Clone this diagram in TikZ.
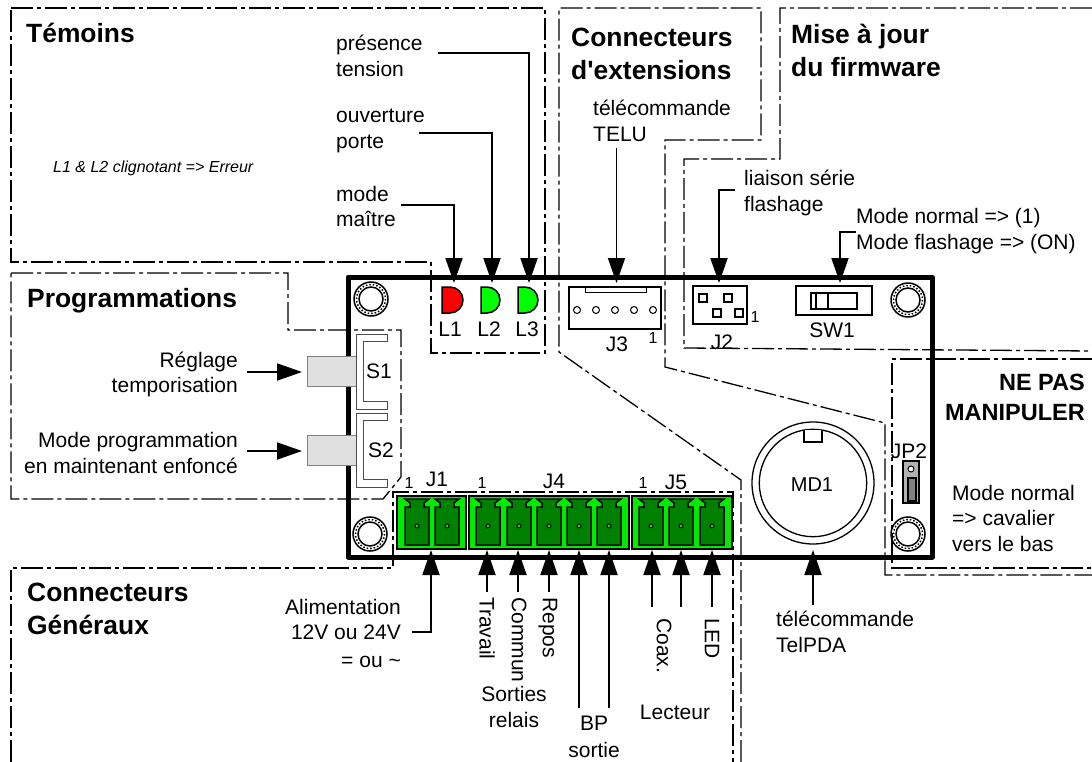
\documentclass[tikz,border=0pt]{standalone}
\usepackage{fontspec}
\setmainfont{Liberation Sans}
\usetikzlibrary{arrows.meta}
\definecolor{vertclair}{RGB}{0, 235, 0}
\definecolor{vertfonce}{RGB}{0, 128, 0}
\definecolor{grisbloc}{RGB}{224, 224, 224}
\tikzstyle{zone} = [line width=1.3pt, dash pattern=on 22pt off 4pt on 4pt off 4pt]
\tikzstyle{arrow} = [line width=1.9pt, -{Triangle[width=17pt,length=25pt]}]
\tikzstyle{titre} = [anchor=west, inner sep=0, align=left, font=\fontsize{26.4}{33}\selectfont\bfseries]
\tikzstyle{texte} = [anchor=west, inner sep=0, align=left, font=\fontsize{21}{25.5}\selectfont]
\tikzstyle{droite} = [anchor=east, inner sep=0, align=right, font=\fontsize{21}{25.5}\selectfont]
\tikzstyle{centre} = [inner sep=0, align=center, font=\fontsize{21}{26.5}\selectfont]
\tikzstyle{vertical} = [anchor=west, inner sep=0, rotate=-90, font=\fontsize{21}{25}\selectfont]
\tikzstyle{repere} = [inner sep=0, font=\fontsize{21}{25}\selectfont]
\tikzstyle{petit} = [inner sep=0, font=\fontsize{16}{19}\selectfont]
\tikzstyle{composant} = [draw=black, line width=1.5pt]
\begin{document}
\begin{tikzpicture}[x=1pt, y=-1pt]
        \useasboundingbox (0,0) rectangle (1092,762);

        \draw [zone] (11,8) -- (545,8) -- (545,353) -- (431,353) -- (431,262) -- (11,262) -- cycle;
        \draw [zone] (11,273) -- (288,273) -- (288,330) -- (401,330) -- (401,477) -- (383,499) -- (11,499) -- cycle;
        \draw [zone] (11,762) -- (11,568) -- (393,568) -- (393,492) -- (733,492) -- (733,762);
        \draw [zone] (741,762) -- (741,480) -- (559,352) -- (559,8) -- (761,8) -- (761,140) -- (665,140) -- (665,367) -- (885,423) -- (885,575) -- (1092,575);
        \draw [zone] (1092,8) -- (780,8) -- (780,159) -- (684,159) -- (684,348) -- (1092,351);
        \draw [zone] (1092,359) -- (892,359) -- (892,568) -- (1092,568);

        \draw [line width=5pt, line join=round] (348,277) rectangle (932,557);

        \foreach \x/\y in {371/299, 908/300, 370/534, 908/534} {
            \draw [line width=1.5pt] (\x,\y) circle (17);
            \draw [line width=1.5pt] (\x,\y) circle (12);
            \draw [line width=1.5pt, dotted] (\x,\y) circle (14.5);
        }

        \draw [composant, fill=red] (442,287) -- (450,287) arc (-90:90:13) -- (442,313) -- cycle;
        \draw [composant, fill=green] (481,287) -- (487,287) arc (-90:90:13) -- (481,313) -- cycle;
        \draw [composant, fill=green] (518,287) -- (525,287) arc (-90:90:13) -- (518,313) -- cycle;
        \node (L1) [repere] at (450,329) {L1};
        \node (L2) [repere] at (489,329) {L2};
        \node (L3) [repere] at (527,329) {L3};

        \draw [composant] (569,287) rectangle (661,329);
        \draw [line width=1pt] (585,287) rectangle (646,292);
        \foreach \x in {577,596,615,634,653}
            \draw [line width=1pt] (\x,310) circle (3.5);
        \node (J3) [repere] at (617,344) {J3};
        \node (Un3) [petit] at (653,338) {1};

        \draw [composant] (693,286) rectangle (747,324);
        \foreach \x/\y in {703/298, 728/298, 717/313, 739/313}
            \draw [composant] (\x-4,\y-4) rectangle (\x+4,\y+4);
        \node (Un2) [petit] at (755,317) {1};
        \node (J2) [repere] at (722,342) {J2};

        \draw [composant] (796,286) rectangle (872,315);
        \draw [line width=1.2pt] (811,293) rectangle (857,309);
        \draw [line width=1.2pt] (816,293) -- (816,309);
        \draw [line width=1.2pt] (828,293) -- (828,309);
        \node (SW1) [repere] at (832,330) {SW1};

        \draw [draw=gray, fill=grisbloc] (307,356) rectangle (356,386);
        \draw [draw=gray, fill=grisbloc] (307,435) rectangle (356,465);
        \draw [draw=black!70, line width=0.8pt, fill=white] (356,334) -- (387,334) -- (387,341) -- (363,341) -- (363,401) -- (387,401) -- (387,409) -- (356,409) -- cycle;
        \draw [draw=black!70, line width=0.8pt, fill=white] (356,413) -- (387,413) -- (387,420) -- (363,420) -- (363,479) -- (387,479) -- (387,487) -- (356,487) -- cycle;
        \node (S1) [repere] at (379,371) {S1};
        \node (S2) [repere] at (381,450) {S2};

        \draw [composant, fill=vertclair] (397,496) rectangle (466,549);
        \draw [composant, fill=vertclair] (469,496) rectangle (629,549);
        \draw [composant, fill=vertclair] (632,496) rectangle (732,549);
        \foreach \x in {417,447,488,519,549,579,609,651,681,712} {
            \draw [composant, fill=vertfonce] (\x-12,545) -- (\x-12,507) -- (\x-7,507) -- (\x-7,503) -- (\x-12,499) -- (\x+12,499) -- (\x+7,503) -- (\x+7,507) -- (\x+12,507) -- (\x+12,545) -- cycle;
            \draw [line width=1pt, fill=vertclair] (\x,526) circle (2);
        }
        \node (Un1) [petit] at (409,483) {1};
        \node (J1) [repere] at (437,479) {J1};
        \node (Un4) [petit] at (482,483) {1};
        \node (J4) [repere] at (554,481) {J4};
        \node (Un5) [petit] at (643,483) {1};
        \node (J5) [repere] at (676,482) {J5};

        \draw [line width=1.3pt] (813,483) circle (61);
        \draw [line width=1.3pt] (813,483) circle (53.7);
        \draw [line width=1.3pt, fill=white] (804,430) -- (804,442) -- (822,442) -- (822,430);
        \node (MD1) [repere, font=\fontsize{20}{24}\selectfont] at (812,485) {MD1};

        \node (JP2) [repere] at (909,451) {JP2};
        \draw [composant, fill=black!30] (903,461) rectangle (919,503);
        \draw [line width=1pt, fill=white] (911,469) circle (3);
        \draw [line width=1.5pt, fill=gray] (908,478) rectangle (916,501);

        \node (Temoins) [titre] at (26,33) {Témoins};
        \node (Programmations) [titre] at (27,301) {Programmations};
        \node (Extensions) [titre] at (571,54) {Connecteurs\\d\textquotesingle extensions};
        \node (Firmware) [titre] at (791,50) {Mise à jour\\du firmware};
        \node (Generaux) [titre] at (27,609) {Connecteurs\\Généraux};
        \node (NePas) [titre, anchor=east, align=right, font=\fontsize{23.5}{30}\selectfont\bfseries] at (1085,397) {NE PAS\\MANIPULER};

        \node (Erreur) [texte, font=\fontsize{16}{19}\selectfont\itshape] at (53,168) {L1 \& L2 clignotant => Erreur};
        \node (Presence) [texte] at (336,56) {présence\\tension};
        \node (Ouverture) [texte] at (336,131) {ouverture\\porte};
        \node (Maitre) [texte] at (336,206.5) {mode\\maître};
        \node (Telu) [texte] at (593,121) {télécommande\\TELU};
        \node (Liaison) [texte] at (744,193) {liaison série\\flashage};
        \node (Flashage) [texte] at (856,231) {Mode normal => (1)\\Mode flashage => (ON)};
        \node (Reglage) [droite] at (238,374.5) {Réglage\\temporisation};
        \node (Enfonce) [droite] at (238,453) {Mode programmation\\en maintenant enfoncé};
        \node (Cavalier) [texte] at (952,518) {Mode normal\\=> cavalier\\vers le bas};
        \node (Alim) [droite] at (401,633) {Alimentation\\12V ou 24V\\[2pt]= ou \textasciitilde};
        \node (Pda) [texte] at (776,632) {télécommande\\TelPDA};

        \node (Travail) [vertical] at (487,597) {Travail};
        \node (Commun) [vertical] at (519,597) {Commun};
        \node (Repos) [vertical] at (548,597) {Repos};
        \node (Coax) [vertical] at (664,618) {Coax.};
        \node (Led) [vertical] at (712,618) {LED};
        \node (Sorties) [centre] at (514,707) {Sorties\\relais};
        \node (Bp) [centre] at (594,737) {BP\\sortie};
        \node (Lecteur) [centre] at (675,712) {Lecteur};

        \foreach \nom/\x/\y in {PinL1/454/283, PinL2/492/283, PinL3/529/283, PinJ3/616.5/283, PinJ2/719/283, PinSW1/840/283,
                PinS1/302/372, PinS2/302/451, PinJ1/431/550, PinJ41/487/550, PinJ42/518/550, PinJ43/549/550, PinJ44/579/550, PinJ45/609/550,
                PinJ51/652/550, PinJ52/681/550, PinJ53/712/550, PinMD1/813/550,
                DepL1/401/205, DepL2/419/133, DepL3/438/53, DepJ3/616.5/148, DepJ2/735/190, DepSW1/856/232,
                DepS1/247/372, DepS2/247/451, DepJ1/412/632, DepJ41/487/592, DepJ42/518/592, DepJ43/549/592, DepJ44/579/708, DepJ45/609/708,
                DepJ51/652/607, DepJ52/681/607, DepJ53/712/607, DepMD1/813/605}
            \coordinate (\nom) at (\x,\y);

        \draw [arrow] (DepL1) -| (PinL1);
        \draw [arrow] (DepL2) -| (PinL2);
        \draw [arrow] (DepL3) -| (PinL3);
        \draw [arrow] (DepJ2) -| (PinJ2);
        \draw [arrow] (DepSW1) -| (PinSW1);
        \draw [arrow] (DepJ1) -| (PinJ1);
        \foreach \nom in {J3,S1,S2,J41,J42,J43,J44,J45,J51,J52,J53,MD1}
            \draw [arrow] (Dep\nom) -- (Pin\nom);

    \end{tikzpicture}
\end{document}
